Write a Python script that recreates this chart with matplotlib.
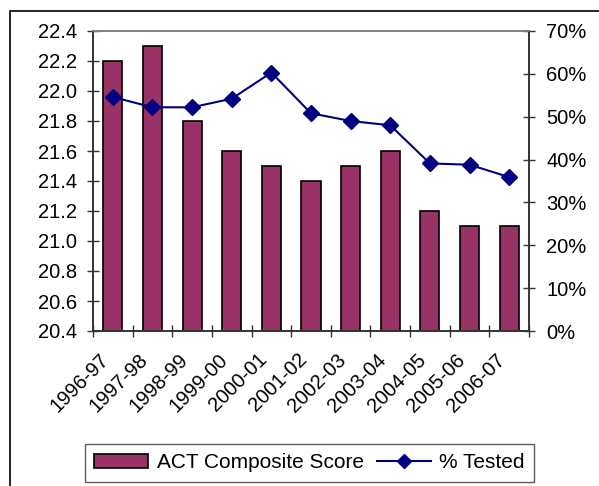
import matplotlib.pyplot as plt
import matplotlib.patches as mpatches
import matplotlib.transforms as mtransforms
from matplotlib.lines import Line2D
from matplotlib.ticker import FuncFormatter, MultipleLocator
import numpy as np

plt.rcParams['font.family'] = ['Liberation Sans', 'DejaVu Sans']

# Data
years = ['1996-97', '1997-98', '1998-99', '1999-00', '2000-01', '2001-02',
         '2002-03', '2003-04', '2004-05', '2005-06', '2006-07']
act_score = [22.2, 22.3, 21.8, 21.6, 21.5, 21.4, 21.5, 21.6, 21.2, 21.1, 21.1]
pct_tested = [54.6, 52.2, 52.2, 54.2, 60.3, 50.8, 49.0, 48.0, 39.1, 38.8, 35.9]

bar_color = '#993366'
line_color = '#000080'
fs = 14.5

fig = plt.figure(figsize=(5.99, 4.86), dpi=100)
ax = fig.add_axes([93 / 599, 1 - 331 / 486, (529 - 93) / 599, 300 / 486])

# outer chart border (cropped at right and bottom like the original)
fig.patches.append(mpatches.Rectangle((10 / 599, -0.1), 1.2, 1.1 - 10.5 / 486,
                                      transform=fig.transFigure, fill=False,
                                      edgecolor='black', linewidth=1.2))

x = np.arange(len(years))
ax.bar(x, [v - 20.4 for v in act_score], bottom=20.4, width=0.48,
       color=bar_color, edgecolor='black', linewidth=1.2, zorder=2)
ax.set_xlim(-0.5, len(years) - 0.5)
ax.set_ylim(20.4, 22.4)
ax.yaxis.set_major_locator(MultipleLocator(0.2))
ax.yaxis.set_major_formatter(FuncFormatter(lambda v, p: f'{v:.1f}'))

# tick marks between categories, rotated labels drawn as text under each bar
ax.set_xticks(np.arange(-0.5, len(years) + 0.5, 1.0))
ax.set_xticklabels([])
ax.tick_params(axis='x', direction='inout', length=8.6, width=1, color='#333333')
base = mtransforms.blended_transform_factory(ax.transData, ax.transAxes)
shift = mtransforms.ScaledTranslation(-14 / 100, -19 / 100, fig.dpi_scale_trans)
for i, yr in enumerate(years):
    ax.text(i, 0, yr, transform=base + shift, rotation=45, ha='right', va='top',
            rotation_mode='anchor', fontsize=fs, clip_on=False)

ax.tick_params(axis='y', direction='inout', length=8.6, width=1, color='#333333',
               labelsize=fs, pad=7)

ax2 = ax.twinx()
ax2.plot(x, pct_tested, color=line_color, marker='D', markersize=8,
         linewidth=1.5, zorder=3)
ax2.set_ylim(0, 70)
ax2.yaxis.set_major_locator(MultipleLocator(10))
ax2.yaxis.set_major_formatter(FuncFormatter(lambda v, p: f'{v:.0f}%'))
ax2.tick_params(axis='y', direction='inout', length=8.6, width=1, color='#333333',
                labelsize=fs, pad=8)

for a in (ax, ax2):
    a.spines['top'].set_color('#808080')
    a.spines['left'].set_color('#333333')
    a.spines['right'].set_color('#333333')
    a.spines['bottom'].set_color('#333333')
    for s in a.spines.values():
        s.set_linewidth(1.2)

handles = [mpatches.Patch(facecolor=bar_color, edgecolor='black', linewidth=1.2),
           Line2D([0], [0], color=line_color, marker='D', markersize=7, linewidth=1.5)]
leg = fig.legend(handles, ['ACT Composite Score', '% Tested'], loc='center',
                 bbox_to_anchor=(309.5 / 599, 1 - 462.7 / 486), ncol=2, fontsize=15,
                 frameon=True, fancybox=False, edgecolor='#333333', handlelength=2.6,
                 handleheight=0.62, columnspacing=0.6, handletextpad=0.42,
                 borderpad=0.45, borderaxespad=0)
leg.get_frame().set_linewidth(1.0)

fig.savefig('out.png', dpi=100)
